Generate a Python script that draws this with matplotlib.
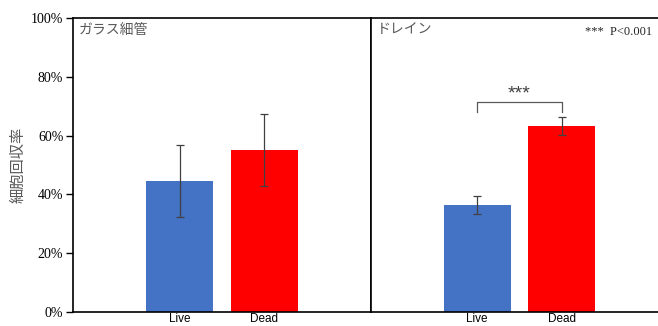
import matplotlib.pyplot as plt

plt.rcParams['font.family'] = ['Liberation Serif', 'Noto Sans CJK JP']

groups = ['Live', 'Dead']
glass_mean = [44.6, 55.1]
glass_err = [12.3, 12.4]
drain_mean = [36.4, 63.3]
drain_err = [2.9, 3.0]
panel_titles = ['ガラス細管', 'ドレイン']
yticks = [0, 20, 40, 60, 80, 100]
colors = ['#4472C4', '#FF0000']

W, H = 658, 326
fig = plt.figure(figsize=(W / 100, H / 100), dpi=100)
ax1 = fig.add_axes([73 / W, 14 / H, 298 / W, 294 / H])
ax2 = fig.add_axes([371 / W, 14 / H, 297 / W, 294 / H])


def draw(ax, mean, err, title):
    x = range(len(groups))
    ax.bar(x, mean, width=0.79, color=colors, zorder=2)
    ax.errorbar(x, mean, yerr=err, fmt='none', ecolor='#404040',
                elinewidth=0.9, capsize=3, capthick=0.9, zorder=3)
    ax.set_xlim(-1.253, 2.253)
    ax.set_ylim(0, 100)
    ax.set_xticks(list(x))
    ax.set_xticklabels(groups, family=['Liberation Sans'], fontsize=8.5)
    ax.tick_params(axis='x', length=0, pad=0.5)
    ax.text(0.02, 0.985, title, transform=ax.transAxes, ha='left', va='top',
            family=['Noto Sans CJK JP'], fontsize=10, color='#595959')
    for s in ax.spines.values():
        s.set_linewidth(1.2)
        s.set_color('black')


draw(ax1, glass_mean, glass_err, panel_titles[0])
draw(ax2, drain_mean, drain_err, panel_titles[1])

ax1.set_yticks(yticks)
ax1.set_yticklabels([f'{t}%' for t in yticks], fontsize=10)
ax1.tick_params(axis='y', length=5, width=1, direction='out', pad=2)
ax1.set_ylabel('細胞回収率', family=['Noto Sans CJK JP'], fontsize=11,
               color='#595959', labelpad=3)

ax2.set_yticks([])
ax2.spines['right'].set_visible(False)

# significance bracket
y0, y1 = 68.0, 71.4
ax2.plot([0, 0, 1, 1], [y0, y1, y1, y0], color='#595959', lw=0.9)
ax2.text(0.5, 74.3, '***', ha='center', va='center', fontsize=14,
         family=['Liberation Sans'], color='#404040')
ax2.text(0.946, 0.952, '***  P<0.001', transform=ax2.transAxes,
         ha='right', va='center', fontsize=9, color='#262626')

fig.savefig('out.png', dpi=100)
